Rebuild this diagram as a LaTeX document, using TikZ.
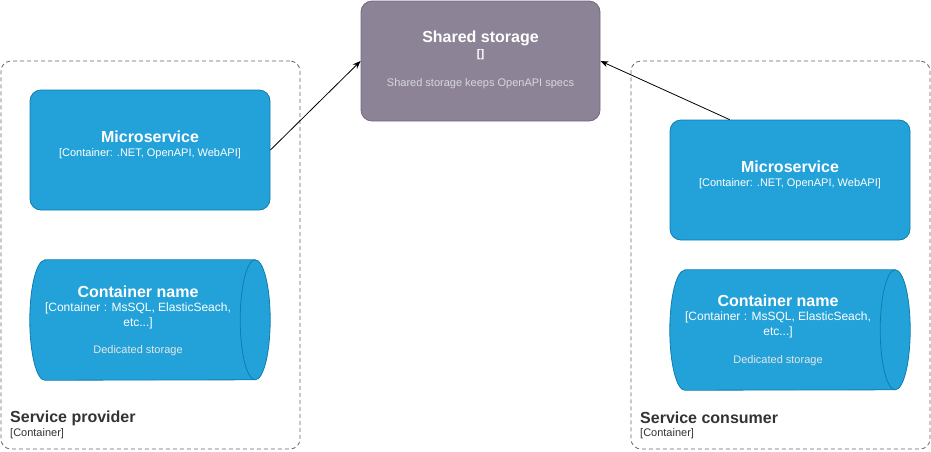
\documentclass[tikz,border=0pt]{standalone}
\usepackage{fontspec}
\setmainfont{Liberation Sans}
\usetikzlibrary{arrows.meta,calc}
\definecolor{c4blue}{HTML}{23A2D9}
\definecolor{c4bluedark}{HTML}{0E7DAD}
\definecolor{sharedfill}{HTML}{8C8496}
\definecolor{sharedline}{HTML}{736782}
\definecolor{boundaryline}{HTML}{666666}
\definecolor{desctext}{HTML}{E6E6E6}
\definecolor{darktext}{HTML}{333333}
\tikzset{
  boundarybox/.style={draw=boundaryline, dashed, dash pattern=on 4pt off 3pt, rounded corners=10pt, line width=0.8pt, minimum width=299pt, minimum height=388pt, inner sep=0pt},
  msbox/.style={draw=c4bluedark, fill=c4blue, rounded corners=11pt, line width=0.8pt, minimum width=240pt, minimum height=120pt, inner sep=0pt},
  sharedbox/.style={draw=sharedline, fill=sharedfill, rounded corners=11pt, line width=0.8pt, minimum width=239pt, minimum height=120pt, inner sep=0pt},
  cylarea/.style={minimum width=240pt, minimum height=120pt, inner sep=0pt},
  cylshape/.style={draw=c4bluedark, fill=c4blue, line width=0.8pt},
  titletext/.style={text=white, font=\bfseries\fontsize{16}{19}\selectfont, inner sep=0pt},
  subtext/.style={text=white, font=\fontsize{11}{15}\selectfont, inner sep=0pt, align=center},
  cylsubtext/.style={text=white, font=\fontsize{12}{15}\selectfont, inner sep=0pt, align=center},
  desc/.style={text=desctext, font=\fontsize{11}{13}\selectfont, inner sep=0pt},
  bnametext/.style={text=darktext, font=\bfseries\fontsize{16}{19}\selectfont, inner sep=0pt, anchor=west},
  btypetext/.style={text=darktext, font=\fontsize{11}{13}\selectfont, inner sep=0pt, anchor=west},
  conn/.style={draw=black, line width=0.8pt, -{Stealth[length=8pt,width=6pt]}}
}
\begin{document}
\begin{tikzpicture}[x=1pt,y=-1pt]
\useasboundingbox (0,0) rectangle (931,451);
% boundaries
\node[boundarybox] (lb) at (150.5,255) {};
\node[boundarybox] (rb) at (780.5,255) {};
% shared storage
\node[sharedbox] (shared) at (480.5,61) {};
\node[titletext] (sharedT) at (480.5,38) {Shared storage};
\node[titletext, font=\bfseries\fontsize{11}{13}\selectfont] (sharedS) at (480.5,55) {[]};
\node[desc, text=desctext!85!sharedfill] (sharedD) at (480.5,84) {Shared storage keeps OpenAPI specs};
% left microservice
\node[msbox] (lms) at (150,150) {};
\node[titletext] (lmsT) at (150,137) {Microservice};
\node[subtext] (lmsS) at (150,153.5) {[Container: .NET, OpenAPI, WebAPI]};
% right microservice
\node[msbox] (rms) at (790,180) {};
\node[titletext] (rmsT) at (790,167) {Microservice};
\node[subtext] (rmsS) at (790,183.5) {[Container: .NET, OpenAPI, WebAPI]};
% left cylinder
\node[cylarea] (lcyl) at (150,320) {};
\draw[cylshape] ($(lcyl.north west)+(15,0)$) -- ($(lcyl.north east)+(-15,0)$)
  arc[start angle=90, end angle=-90, x radius=15pt, y radius=60pt]
  -- ($(lcyl.south west)+(15,0)$)
  arc[start angle=270, end angle=90, x radius=15pt, y radius=60pt] -- cycle;
\draw[cylshape, fill=none] ($(lcyl.north east)+(-15,0)$) arc[start angle=90, end angle=270, x radius=15pt, y radius=60pt];
\node[titletext] (lcylT) at (138,292) {Container name};
\node[cylsubtext] (lcylS) at (138,316) {[Container : MsSQL, ElasticSeach,\\etc...]};
\node[desc] (lcylD) at (138,351) {Dedicated storage};
% right cylinder
\node[cylarea] (rcyl) at (790,330) {};
\draw[cylshape] ($(rcyl.north west)+(15,0)$) -- ($(rcyl.north east)+(-15,0)$)
  arc[start angle=90, end angle=-90, x radius=15pt, y radius=60pt]
  -- ($(rcyl.south west)+(15,0)$)
  arc[start angle=270, end angle=90, x radius=15pt, y radius=60pt] -- cycle;
\draw[cylshape, fill=none] ($(rcyl.north east)+(-15,0)$) arc[start angle=90, end angle=270, x radius=15pt, y radius=60pt];
\node[titletext] (rcylT) at (778,301) {Container name};
\node[cylsubtext] (rcylS) at (778,325) {[Container : MsSQL, ElasticSeach,\\etc...]};
\node[desc] (rcylD) at (778,361) {Dedicated storage};
% boundary labels
\node[bnametext] (lbN) at (10,418) {Service provider};
\node[btypetext] (lbT) at (10,434) {[Container]};
\node[bnametext] (rbN) at (640,418) {Service consumer};
\node[btypetext] (rbT) at (640,434) {[Container]};
% connectors
\coordinate (rmsTop) at ($(rms.north west)+(60,0)$);
\draw[conn] (lms.east) -- (shared.west);
\draw[conn] (rmsTop) -- (shared.east);
\end{tikzpicture}
\end{document}
